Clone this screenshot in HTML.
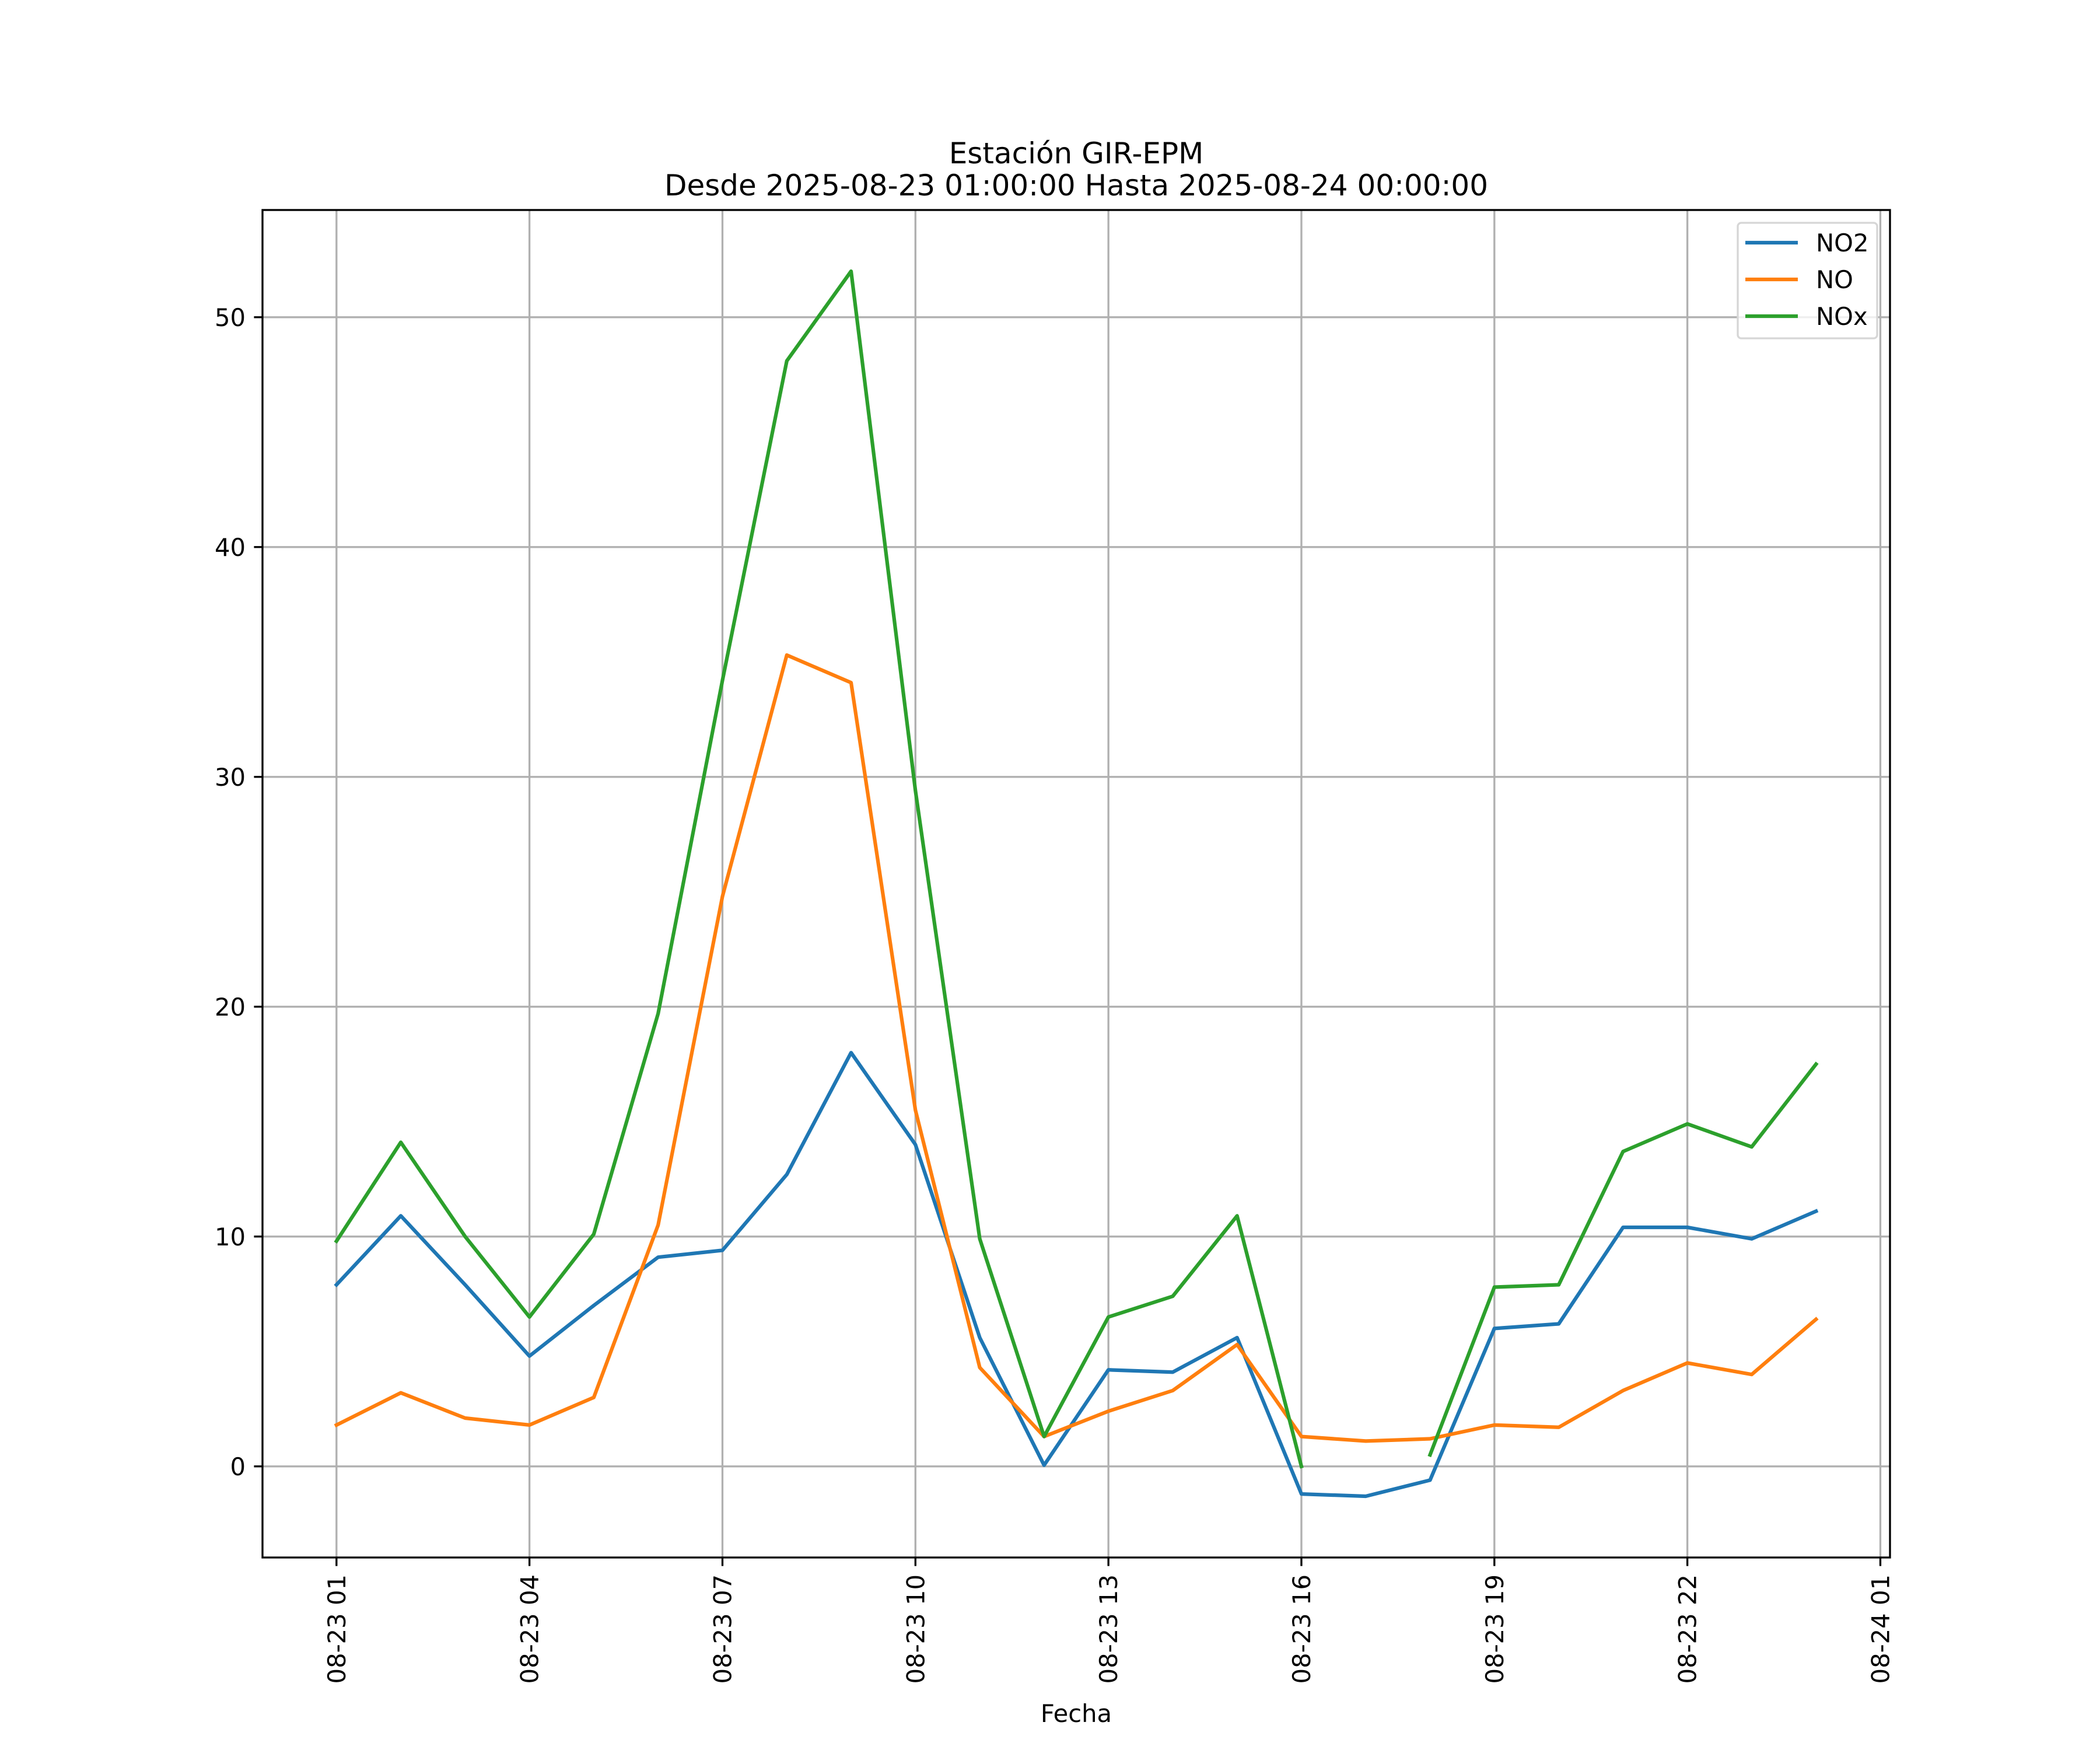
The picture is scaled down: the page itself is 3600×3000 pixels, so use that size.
<!DOCTYPE html>
<html><head><meta charset="utf-8"><style>
html,body{margin:0;padding:0;background:#fff}
svg{display:block;font-family:"DejaVu Sans","Liberation Sans",sans-serif}
</style></head><body>
<svg id="chart" width="3600" height="3000" viewBox="0 0 3600 3000" xmlns="http://www.w3.org/2000/svg">
<rect width="3600" height="3000" fill="#fff"/>
<text x="1845" y="280" font-size="50" text-anchor="middle">Estación GIR-EPM</text>
<text x="1845" y="335" font-size="50" text-anchor="middle">Desde 2025-08-23 01:00:00 Hasta 2025-08-24 00:00:00</text>
<g id="grid"></g>
<g id="series"></g>
<rect x="450" y="360" width="2790" height="2310" fill="none" stroke="#000" stroke-width="3.33"/>
<g id="ticks"></g>
<text x="1845" y="2952" font-size="41.7" text-anchor="middle">Fecha</text>
<g>
<rect x="2979" y="382" width="239" height="198" rx="6" fill="#fff" fill-opacity="0.8" stroke="#d6d6d6" stroke-width="3.33"/>
<line x1="2992" y1="416" x2="3082" y2="416" stroke="#1f77b4" stroke-width="6.25"/>
<text x="3113" y="431" font-size="41.7">NO2</text>
<line x1="2992" y1="479" x2="3082" y2="479" stroke="#ff7f0e" stroke-width="6.25"/>
<text x="3113" y="494" font-size="41.7">NO</text>
<line x1="2992" y1="542" x2="3082" y2="542" stroke="#2ca02c" stroke-width="6.25"/>
<text x="3113" y="557" font-size="41.7">NOx</text>
</g>
</svg>
<script>
const hours = [1,2,3,4,5,6,7,8,9,10,11,12,13,14,15,16,17,18,19,20,21,22,23,24];
const no2 = [7.9,10.9,7.9,4.8,7.0,9.1,9.4,12.7,18.0,14.0,5.6,0.05,4.2,4.1,5.6,-1.2,-1.3,-0.6,6.0,6.2,10.4,10.4,9.9,11.1];
const no = [1.8,3.2,2.1,1.8,3.0,10.5,24.8,35.3,34.1,15.5,4.3,1.3,2.4,3.3,5.3,1.3,1.1,1.2,1.8,1.7,3.3,4.5,4.0,6.4];
const nox = [9.8,14.1,10.0,6.5,10.1,19.7,34.2,48.1,52.0,29.4,9.9,1.3,6.5,7.4,10.9,0.0,null,0.5,7.8,7.9,13.7,14.9,13.9,17.5];
const xTickHours = [1,4,7,10,13,16,19,22,25];
const xTickLabels = ["08-23 01","08-23 04","08-23 07","08-23 10","08-23 13","08-23 16","08-23 19","08-23 22","08-24 01"];
const yTicks = [0,10,20,30,40,50];

const NS="http://www.w3.org/2000/svg";
const L=450,R=3240,T=360,B=2670;
const hMin=Math.min(...hours),hMax=Math.max(...hours),hm=(hMax-hMin)*0.05;
const all=[...no2,...no,...nox].filter(v=>v!==null);
const vMin=Math.min(...all),vMax=Math.max(...all),vm=(vMax-vMin)*0.05;
const x=h=>L+(h-(hMin-hm))/((hMax+hm)-(hMin-hm))*(R-L);
const y=v=>B-(v-(vMin-vm))/((vMax+vm)-(vMin-vm))*(B-T);
function mk(tag,attrs,parent){const e=document.createElementNS(NS,tag);for(const k in attrs)e.setAttribute(k,attrs[k]);parent.appendChild(e);return e;}
const grid=document.getElementById('grid'),ticks=document.getElementById('ticks'),series=document.getElementById('series');
xTickHours.forEach((h,i)=>{
  const X=x(h);
  const g=mk('line',{x1:X,y1:T,x2:X,y2:B,stroke:'#b0b0b0','stroke-width':3.33},grid);
  
  
  const t=mk('line',{x1:X,y1:B,x2:X,y2:B+14.6,stroke:'#000','stroke-width':3.33},ticks);
  
  
  const tx=mk('text',{x:0,y:0,'font-size':41.7,'text-anchor':'end',transform:`translate(${X+15},${B+29}) rotate(-90)`},ticks);
  tx.textContent=xTickLabels[i];
  
  
});
yTicks.forEach(v=>{
  const Y=y(v);
  const g=mk('line',{x1:L,y1:Y,x2:R,y2:Y,stroke:'#b0b0b0','stroke-width':3.33},grid);
  
  
  const t=mk('line',{x1:L-14.6,y1:Y,x2:L,y2:Y,stroke:'#000','stroke-width':3.33},ticks);
  
  
  const tx=mk('text',{x:L-29,y:Y+15,'font-size':41.7,'text-anchor':'end'},ticks);
  tx.textContent=String(v);
  
  
});
function draw(vals,color,name){
  let segs=[],cur=[];
  vals.forEach((v,i)=>{if(v===null){if(cur.length)segs.push(cur);cur=[];}else cur.push(x(hours[i]).toFixed(1)+','+y(v).toFixed(1));});
  if(cur.length)segs.push(cur);
  segs.forEach(s=>{
    const p=mk('polyline',{points:s.join(' '),fill:'none',stroke:color,'stroke-width':6.25,'stroke-linejoin':'round','stroke-linecap':'square'},series);
    
    
  });
}
draw(no2,'#1f77b4','no2-line');
draw(no,'#ff7f0e','no-line');
draw(nox,'#2ca02c','nox-line');
</script>
</body></html>
